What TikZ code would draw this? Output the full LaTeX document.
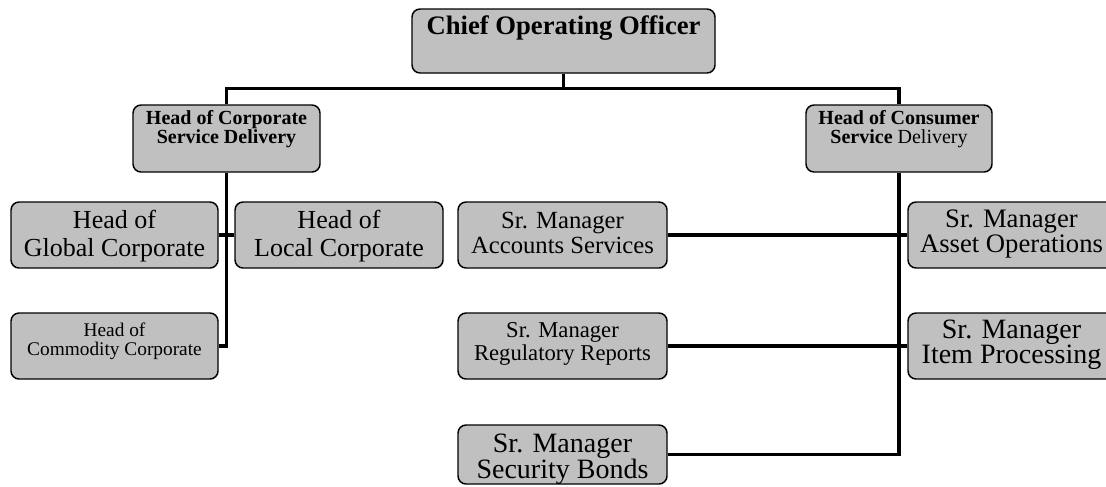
\documentclass[tikz,border=0pt]{standalone}
\usepackage{fontspec}
\setmainfont{Liberation Serif}
\begin{document}
\begin{tikzpicture}[x=0.75pt,y=-0.75pt,
  box/.style 2 args={draw=black, line width=1.1pt, fill=boxgray, rounded corners=6pt,
    inner sep=0pt, minimum width={#1*0.75pt}, minimum height={#2*0.75pt}},
  wire/.style={draw=black, line width=2.4pt},
  lbl/.style={align=center, inner sep=0pt}]
\definecolor{boxgray}{RGB}{192,192,192}
\useasboundingbox (0,0) rectangle (1106,486);
\clip (0,0) rectangle (1106,486);

% boxes
\node[box={303}{64}] (coo)   at (563.5,41) {};
\node[box={187}{67}] (hcorp) at (226.5,138.5) {};
\node[box={186}{67}] (hcons) at (899,138.5) {};
\node[box={207}{66}] (glob)  at (114.5,235) {};
\node[box={208}{66}] (local) at (339,235) {};
\node[box={207}{66}] (comm)  at (114.5,346) {};
\node[box={209}{66}] (acct)  at (562.5,235) {};
\node[box={209}{66}] (reg)   at (562.5,346) {};
\node[box={209}{59}] (sec)   at (562.5,454.5) {};
\node[box={207}{66}] (asset) at (1011.5,235) {};
\node[box={207}{66}] (item)  at (1011.5,346) {};

% labels
\node[lbl, font=\fontsize{20}{22}\selectfont\bfseries] (cooT) at (563.5,28) {Chief Operating Officer};
\node[lbl, font=\fontsize{15}{14}\selectfont\bfseries] (hcorpT) at (226.5,129) {Head of Corporate\\Service Delivery};
\node[lbl, font=\fontsize{15}{14}\selectfont] (hconsT) at (899,129) {\textbf{Head of Consumer}\\\textbf{Service} Delivery};
\node[lbl, font=\fontsize{19.5}{20.5}\selectfont] (globT)  at (114.5,236) {Head of\\Global Corporate};
\node[lbl, font=\fontsize{19.5}{20.5}\selectfont] (localT) at (339,236) {Head of\\Local Corporate};
\node[lbl, font=\fontsize{14.5}{14}\selectfont] (commT) at (114.5,341) {Head of\\Commodity Corporate};
\node[lbl, font=\fontsize{18.5}{18.5}\selectfont] (acctT) at (562.5,233) {Sr. Manager\\Accounts Services};
\node[lbl, font=\fontsize{17}{17.5}\selectfont] (regT) at (562.5,344) {Sr. Manager\\Regulatory Reports};
\node[lbl, font=\fontsize{21}{19.5}\selectfont] (secT) at (562.5,459) {Sr. Manager\\Security Bonds};
\node[lbl, font=\fontsize{20}{19}\selectfont] (assetT) at (1011.5,234) {Sr. Manager\\Asset Operations};
\node[lbl, font=\fontsize{21}{19}\selectfont] (itemT) at (1011.5,345) {Sr. Manager\\Item Processing};

% connectors
\draw[wire] (coo.south) -- ++(0,16);
\draw[wire] (hcorp.north) -- ++(0,-16) -| (hcons.north);
\draw[wire] (hcorp.south) |- (comm.east);
\draw[wire] (glob.east) -- (local.west);
\draw[wire] (hcons.south) |- (sec.east);
\draw[wire] (acct.east) -- (asset.west);
\draw[wire] (reg.east) -- (item.west);
\end{tikzpicture}
\end{document}
